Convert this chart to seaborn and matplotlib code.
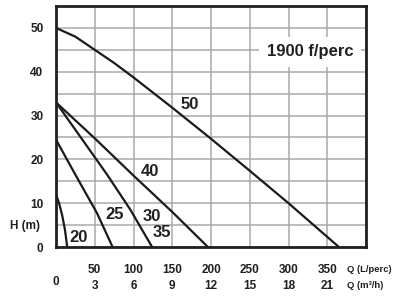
import numpy as np
import pandas as pd
import matplotlib
matplotlib.use('Agg')
import matplotlib.pyplot as plt
import seaborn as sns

# pump curves, Q in L/perc, H in m
q_20 = [0, 4, 8, 11.5, 14.5]
h_20 = [12, 10, 7.2, 4, 0]
q_25 = [0, 25, 53, 73]
h_25 = [24.5, 16.5, 7.7, 0]
q_30 = [0, 30, 66, 96, 124]
h_30 = [33, 25.5, 16.5, 8.5, 0]
q_40 = [0, 50, 100, 150, 196]
h_40 = [33, 24.8, 16.3, 8, 0]
q_50 = [0, 25, 50, 75, 100, 150, 200, 250, 300, 365]
h_50 = [50, 48, 45, 42, 38.7, 31.8, 24.7, 17.4, 10, 0]

# curve labels and where they sit
curve_labels = ['20', '25', '30', '35', '40', '50']
label_q = [29.5, 75, 124, 136, 121, 173]
label_h = [2.2, 7.5, 7.0, 3.2, 17.3, 32.6]

q_ticks = [0, 50, 100, 150, 200, 250, 300, 350]
m3h_ticks = [0, 3, 6, 9, 12, 15, 18, 21]
h_ticks = [0, 10, 20, 30, 40, 50]

title_txt = '1900 f/perc'

curves = {'20': (q_20, h_20), '25': (q_25, h_25), '30': (q_30, h_30),
          '40': (q_40, h_40), '50': (q_50, h_50)}
rows = []
for name, (qs, hs) in curves.items():
    for q, h in zip(qs, hs):
        rows.append((name, q, h))
df = pd.DataFrame(rows, columns=['curve', 'Q', 'H'])

sns.set_style('white')
plt.rcParams['font.family'] = ['Liberation Sans', 'DejaVu Sans']
txt_col = '#231f20'

fig = plt.figure(figsize=(3.98, 2.97), dpi=100)
ax = fig.add_axes([56/398, 1-247/297, 310/398, 241/297])

sns.lineplot(data=df, x='Q', y='H', hue='curve', estimator=None, sort=False,
             palette={k: '#1a1a1a' for k in curves}, legend=False,
             linewidth=1.6, ax=ax, zorder=3)

ax.set_xlim(0, 400)
ax.set_ylim(0, 55)

# grid every 50 L/perc and every 5 m
ax.set_xticks(np.arange(0, 401, 50))
ax.set_yticks(np.arange(0, 56, 5))
ax.grid(True, color='#a7a9ac', linewidth=1.1, zorder=0)
ax.set_axisbelow(True)
ax.tick_params(length=0)
ax.set_xticklabels([])
ax.set_yticklabels([str(int(v)) if v in h_ticks else '' for v in np.arange(0, 56, 5)],
                   fontsize=8.5, fontweight='bold', color=txt_col)
ax.tick_params(axis='y', pad=9)
ax.set_xlabel('')
ax.set_ylabel('')

for s in ax.spines.values():
    s.set_color('#231f20')
    s.set_linewidth(2.0)
    s.set_zorder(4)

# two-row x labels
trans = ax.get_xaxis_transform()
for q, m in zip(q_ticks, m3h_ticks):
    if q == 0:
        ax.text(q, -0.145, '0', transform=trans, ha='center', va='center',
                fontsize=8.5, fontweight='bold', color=txt_col)
        continue
    ax.text(q, -0.095, str(q), transform=trans, ha='center', va='center',
            fontsize=8.5, fontweight='bold', color=txt_col)
    ax.text(q, -0.16, str(m), transform=trans, ha='center', va='center',
            fontsize=8.5, fontweight='bold', color=txt_col)
ax.text(375, -0.095, 'Q (L/perc)', transform=trans, ha='left', va='center',
        fontsize=6.8, fontweight='bold', color=txt_col, clip_on=False)
ax.text(375, -0.16, 'Q (m³/h)', transform=trans, ha='left', va='center',
        fontsize=6.8, fontweight='bold', color=txt_col, clip_on=False)

ax.text(-0.1, 4.8, 'H (m)', transform=ax.get_yaxis_transform(), ha='center',
        va='center', fontsize=8.5, fontweight='bold', color=txt_col)

for lab, q, h in zip(curve_labels, label_q, label_h):
    ax.text(q, h, lab, ha='center', va='center', fontsize=12, fontweight='bold',
            color=txt_col, zorder=5)

ax.text(327.5, 44.6, title_txt, ha='center', va='center', fontsize=12,
        fontweight='bold', color=txt_col, zorder=5,
        bbox=dict(boxstyle='square,pad=0.45', fc='white', ec='none'))

fig.savefig('out.png', dpi=100)
